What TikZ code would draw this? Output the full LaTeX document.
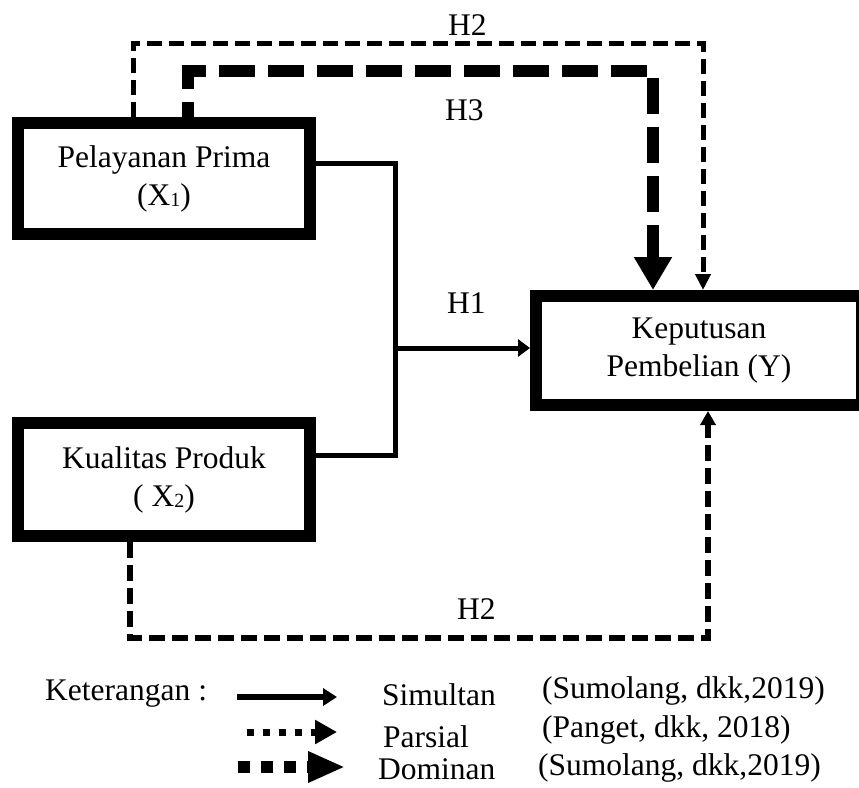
\documentclass[tikz,border=0pt]{standalone}
\usepackage{fontspec}
\setmainfont{Liberation Serif}
\usetikzlibrary{arrows.meta}
\newcommand{\sbs}[1]{\raisebox{-1.5pt}{\fontsize{20}{20}\selectfont #1}}
\begin{document}
\begin{tikzpicture}[x=1pt,y=-1pt,
  font=\fontsize{31.5}{38}\selectfont,
  box/.style={draw, line width=12pt, outer sep=6pt, inner sep=0pt, align=center},
  simul/.style={line width=5pt},
  parsial/.style={line width=5pt, dash pattern=on 15pt off 7pt},
  dominan/.style={line width=12pt, dash pattern=on 36pt off 13pt, dash phase=21pt},
  lbl/.style={anchor=base west, inner sep=0pt}]
\useasboundingbox (0,0) rectangle (859,787);

% boxes
\node[box, minimum width=292pt, minimum height=111pt] (x1) at (164,178.5)
  {\fontsize{31.5}{41}\selectfont Pelayanan Prima\\(X\sbs{1})};
\node[box, minimum width=292pt, minimum height=113pt] (x2) at (164,479.5)
  {Kualitas Produk\\( X\sbs{2})};
\node[box, minimum width=326pt, minimum height=109pt] (y) at (699,350.5)
  {\fontsize{31.5}{36}\selectfont Keputusan\\Pembelian (Y)};

% helper coordinates
\coordinate (h2a) at (133,43);
\coordinate (h2b) at (703,43);
\coordinate (h3a) at (188,71);
\coordinate (h3b) at (653,71);
\coordinate (h2c) at (130,638);
\coordinate (h2d) at (708,638);
\coordinate (s1) at (395,163);
\coordinate (s2) at (395,455);
\coordinate (h1) at (398,348);

% H2 top (parsial)
\draw[parsial, -{Triangle[length=16pt,width=15pt]}]
  (x1.north -| h2a) |- (h2b) -- (h2b |- y.north);
% H3 (dominan)
\draw[dominan, -{Triangle[length=33pt,width=36pt]}]
  (x1.north -| h3a) |- (h3b) -- (h3b |- y.north);
% H2 bottom (parsial)
\draw[parsial, line width=5.5pt, dash pattern=on 16pt off 7pt, -{Triangle[length=14pt,width=15pt]}]
  (x2.south -| h2c) |- (h2d) -- (h2d |- y.south);
% simultan
\draw[simul] (x1.east |- s1) -- (s1) -- (s2) -- (x2.east |- s2);
\draw[simul, -{Triangle[length=12pt,width=17pt]}] (h1) -- (h1 -| y.west);

% labels
\node[lbl] (lh2t) at (448,35) {H2};
\node[lbl] (lh3) at (445,120) {H3};
\node[lbl] (lh1) at (447,313) {H1};
\node[lbl] (lh2b) at (457,619) {H2};

% legend
\node[lbl] (ket) at (45,700) {Keterangan :};
\coordinate (l1a) at (237,697);
\coordinate (l1b) at (337,697);
\coordinate (l2a) at (247,732);
\coordinate (l2b) at (337,732);
\coordinate (l3a) at (238,767);
\coordinate (l3b) at (345,767);
\draw[line width=6pt, -{Triangle[length=14pt,width=17pt]}] (l1a) -- (l1b);
\draw[line width=7pt, dash pattern=on 7pt off 9pt, -{Triangle[length=22pt,width=23pt]}] (l2a) -- (l2b);
\draw[line width=12pt, dash pattern=on 12pt off 11pt, -{Triangle[length=37pt,width=29pt]}] (l3a) -- (l3b);
\node[lbl] (tsim) at (382,705) {Simultan};
\node[lbl] (tpar) at (383,747) {Parsial};
\node[lbl] (tdom) at (378,779) {Dominan};
\node[lbl] (r1) at (542,698) {(Sumolang, dkk,2019)};
\node[lbl] (r2) at (542,737) {(Panget, dkk, 2018)};
\node[lbl] (r3) at (538,775) {(Sumolang, dkk,2019)};
\end{tikzpicture}
\end{document}
